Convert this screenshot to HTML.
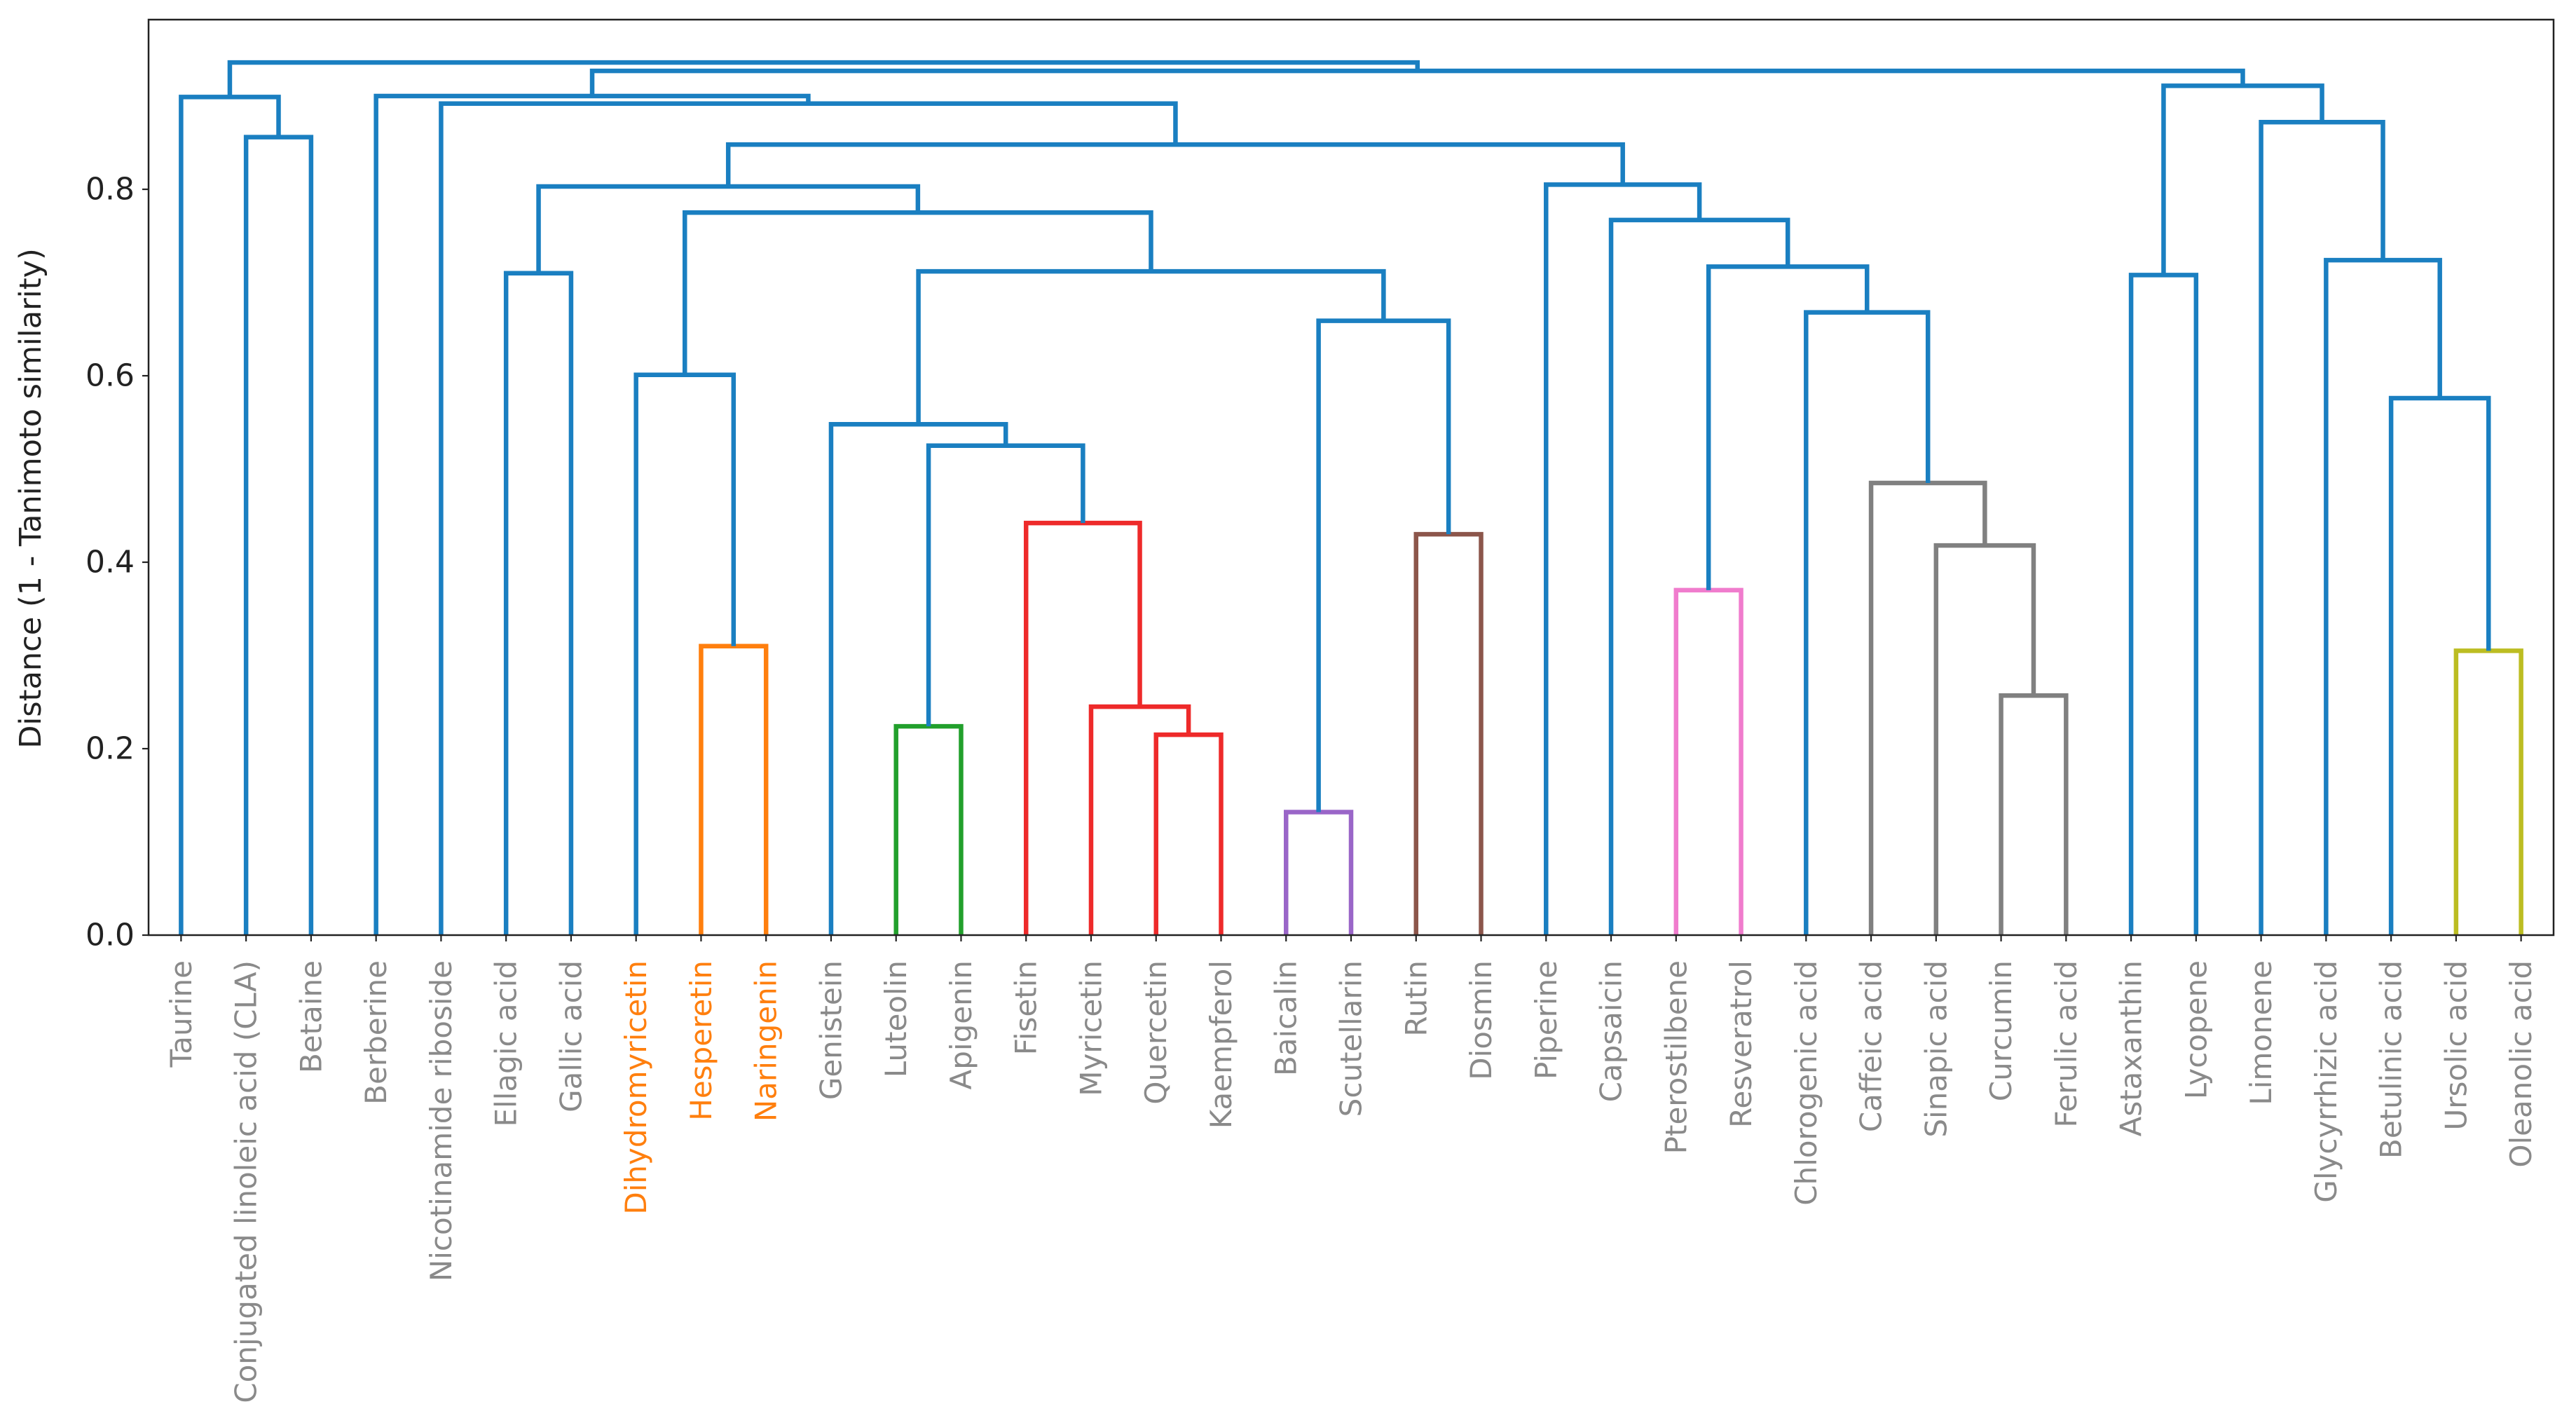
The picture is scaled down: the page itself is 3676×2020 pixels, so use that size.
<!DOCTYPE html>
<html><head><meta charset="utf-8"><style>
html,body{margin:0;padding:0;background:#fff}
svg{display:block}
text{font-family:"DejaVu Sans","Liberation Sans",sans-serif}
</style></head><body>
<svg id="chart" width="3676" height="2020" viewBox="0 0 3676 2020" xmlns="http://www.w3.org/2000/svg">
<rect x="0" y="0" width="3676" height="2020" fill="#fff"/>
<g id="links"></g>
<g id="axes"></g>
</svg>
<script>
const leafLabels = ["Taurine","Conjugated linoleic acid (CLA)","Betaine","Berberine","Nicotinamide riboside","Ellagic acid","Gallic acid","Dihydromyricetin","Hesperetin","Naringenin","Genistein","Luteolin","Apigenin","Fisetin","Myricetin","Quercetin","Kaempferol","Baicalin","Scutellarin","Rutin","Diosmin","Piperine","Capsaicin","Pterostilbene","Resveratrol","Chlorogenic acid","Caffeic acid","Sinapic acid","Curcumin","Ferulic acid","Astaxanthin","Lycopene","Limonene","Glycyrrhizic acid","Betulinic acid","Ursolic acid","Oleanolic acid"];
const highlightedLeaves = ["Dihydromyricetin","Hesperetin","Naringenin"];
// merges: left child, right child (leaf index or 37+k), height
const mergeLeft  = [15,14,13,11,40,10,17,19,43,42,8,7,48,5,50,28,27,26,25,23,56,22,21,51,4,3,1,0,35,34,33,32,30,69,62,64];
const mergeRight = [16,37,38,12,39,41,18,20,44,45,9,47,46,6,49,29,52,53,54,24,55,57,58,59,60,61,2,63,36,65,66,67,31,68,70,71];
const mergeHeight = [0.215,0.245,0.442,0.224,0.525,0.548,0.132,0.430,0.659,0.712,0.310,0.601,0.775,0.710,0.803,0.257,0.418,0.485,0.668,0.370,0.717,0.767,0.805,0.848,0.892,0.900,0.856,0.899,0.305,0.576,0.724,0.872,0.708,0.911,0.927,0.936];
const mergeColor = ["red","red","red","green","blue","blue","purple","brown","blue","blue","orange","blue","blue","blue","blue","gray","gray","gray","blue","pink","blue","blue","blue","blue","blue","blue","blue","blue","olive","blue","blue","blue","blue","blue","blue","blue"];
const yTicks = [0.0,0.2,0.4,0.6,0.8];
const yTickLabels = ["0.0","0.2","0.4","0.6","0.8"];

const palette = {blue:"#1a7fc1",red:"#ee2a2a",green:"#22a02c",purple:"#9a66c8",brown:"#8c564b",orange:"#ff7f0e",gray:"#808080",pink:"#f07ccd",olive:"#bcbd22"};
const NS = "http://www.w3.org/2000/svg";
const L=212, R=3644, T=28, B=1334, YMAX=0.982;
const n = leafLabels.length;
const xScale = i => L + (i+0.5)*(R-L)/n;
const yScale = v => B - v/YMAX*(B-T);

function mk(tag, attrs, parent){const e=document.createElementNS(NS,tag);for(const k in attrs)e.setAttribute(k,attrs[k]);parent.appendChild(e);return e;}

const links = document.getElementById('links');
const axes = document.getElementById('axes');
const pos = {}; const hgt = {};
for (let i=0;i<n;i++){pos[i]=i;hgt[i]=0;}
for (let k=0;k<mergeLeft.length;k++){
  const a=mergeLeft[k], b=mergeRight[k], h=mergeHeight[k], id=n+k;
  const xa=xScale(pos[a]), xb=xScale(pos[b]);
  const d = `M${xa},${yScale(hgt[a])} L${xa},${yScale(h)} L${xb},${yScale(h)} L${xb},${yScale(hgt[b])}`;
  const p = mk('path',{d:d,fill:"none",stroke:palette[mergeColor[k]],"stroke-width":6.5,"stroke-linejoin":"miter","stroke-linecap":"butt"},links);
  
  
  pos[id]=(pos[a]+pos[b])/2; hgt[id]=h;
}

const frame = mk('rect',{x:L,y:T,width:R-L,height:B-T,fill:"none",stroke:"#222","stroke-width":2.5},axes);



for (let i=0;i<yTicks.length;i++){
  const y=yScale(yTicks[i]);
  const t=mk('line',{x1:L-9,x2:L,y1:y,y2:y,stroke:"#222","stroke-width":2.2},axes);
  
  
  const tx=mk('text',{x:L-20,y:y,"text-anchor":"end","dominant-baseline":"central","font-size":44,fill:"#222"},axes);
  tx.textContent=yTickLabels[i];
  
  
}
for (let i=0;i<n;i++){
  const x=xScale(i);
  const t=mk('line',{x1:x,x2:x,y1:B,y2:B+9,stroke:"#222","stroke-width":2.2},axes);
  
  
  const col = highlightedLeaves.includes(leafLabels[i]) ? "#ff7f0e" : "#8a8a8a";
  const ty = B+36;
  const tx=mk('text',{x:x,y:ty,"text-anchor":"end","dominant-baseline":"central","font-size":42,fill:col,transform:`rotate(-90 ${x} ${ty})`},axes);
  tx.textContent=leafLabels[i];
  
  
}
const yt=mk('text',{x:44,y:(T+B)/2+30,"text-anchor":"middle","dominant-baseline":"central","font-size":43,fill:"#222",transform:`rotate(-90 44 ${(T+B)/2+30})`},axes);
yt.textContent="Distance (1 - Tanimoto similarity)";


</script>
</body></html>
